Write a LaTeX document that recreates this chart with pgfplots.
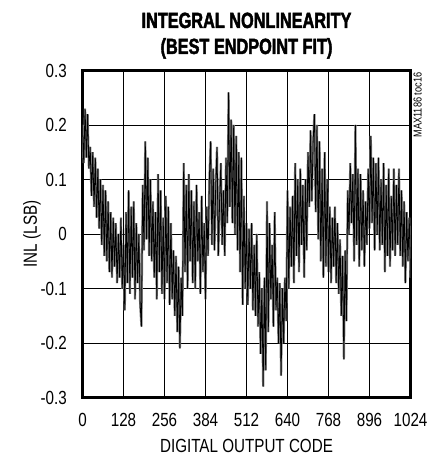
\documentclass[border=0pt]{standalone}
\usepackage{fontspec}
\setmainfont{Liberation Sans}[FakeStretch=0.8]
\newfontfamily\titlefont{Liberation Sans}[FakeStretch=0.74, BoldFeatures={FakeBold=2}]
\usepackage{pgfplots}
\usepackage{pgfplotstable}
\pgfplotsset{compat=1.18}
\pgfplotstableread[row sep=\\]{
code inl\\
0 0.20\\ 4 0.13\\ 8 0.23\\ 12 0.14\\ 16 0.22\\ 20 0.12\\
24 0.16\\ 28 0.07\\ 32 0.15\\ 36 0.05\\ 40 0.14\\ 44 0.03\\ 48 0.12\\ 52 0.01\\
56 0.10\\ 60 -0.02\\ 64 0.09\\ 68 -0.04\\ 72 0.08\\ 76 -0.05\\ 80 0.06\\ 84 -0.07\\ 88 0.04\\ 92 -0.08\\
96 0.03\\ 100 -0.06\\ 104 0.02\\ 108 -0.09\\ 112 0.00\\ 116 -0.08\\ 120 0.03\\ 124 -0.10\\
128 -0.02\\ 132 -0.14\\ 136 0.04\\
140 -0.09\\ 144 0.08\\ 148 -0.11\\ 152 0.05\\ 156 -0.08\\ 160 0.06\\ 164 -0.12\\
168 0.02\\ 172 -0.09\\ 176 0.00\\ 180 -0.13\\ 184 -0.17\\
188 0.09\\ 192 -0.03\\ 196 0.17\\ 200 -0.01\\ 204 0.14\\ 208 -0.04\\ 212 0.10\\
216 -0.05\\ 220 0.06\\ 224 -0.08\\ 228 0.04\\
232 -0.12\\ 236 0.11\\ 240 -0.07\\ 244 0.08\\ 248 -0.11\\ 252 0.03\\ 256 -0.12\\
260 0.07\\ 264 -0.09\\ 268 0.05\\ 272 -0.13\\ 276 0.02\\ 280 -0.12\\ 284 -0.03\\
288 -0.15\\ 292 -0.04\\ 296 -0.18\\ 300 -0.06\\ 304 -0.21\\ 308 -0.08\\ 312 -0.15\\
316 0.13\\ 320 -0.07\\ 324 0.09\\ 328 -0.10\\ 332 0.11\\ 336 -0.05\\ 340 0.08\\ 344 -0.09\\
348 0.06\\ 352 -0.10\\ 356 0.09\\ 360 -0.05\\ 364 0.04\\ 368 -0.11\\ 372 0.07\\ 376 -0.07\\ 380 0.02\\ 384 -0.12\\ 388 0.05\\
392 -0.04\\ 396 0.10\\ 400 0.17\\ 404 -0.02\\ 408 0.12\\
412 -0.03\\ 416 0.09\\ 420 0.16\\ 424 -0.04\\ 428 0.06\\ 432 0.13\\ 436 -0.02\\ 440 0.08\\ 444 -0.04\\
448 0.14\\ 452 0.02\\ 456 0.26\\ 460 0.05\\ 464 0.21\\ 468 0.02\\
472 0.20\\ 476 0.00\\ 480 0.18\\ 484 -0.03\\ 488 0.15\\ 492 -0.07\\ 496 0.14\\
500 -0.13\\ 504 0.07\\ 508 -0.10\\
512 0.02\\ 516 -0.13\\ 520 0.01\\ 524 -0.10\\ 528 0.02\\ 532 -0.14\\ 536 -0.02\\ 540 -0.15\\ 544 0.00\\
548 -0.17\\ 552 -0.07\\ 556 -0.22\\ 560 -0.10\\ 564 -0.28\\ 568 -0.08\\ 572 -0.25\\ 576 0.06\\
580 -0.18\\ 584 0.02\\ 588 -0.12\\ 592 -0.02\\ 596 -0.17\\ 600 0.04\\ 604 -0.14\\
608 -0.08\\ 612 -0.20\\ 616 -0.09\\ 620 -0.26\\ 624 -0.10\\ 628 -0.20\\ 632 -0.08\\
636 -0.16\\ 640 0.08\\ 644 -0.10\\ 648 0.05\\ 652 -0.06\\ 656 0.07\\
660 -0.09\\ 664 0.13\\ 668 -0.04\\ 672 0.10\\ 676 -0.07\\ 680 0.12\\ 684 -0.02\\ 688 0.09\\ 692 -0.08\\ 696 0.10\\ 700 -0.03\\
704 0.15\\ 708 0.05\\ 712 0.19\\ 716 0.06\\ 720 0.17\\ 724 0.22\\ 728 0.04\\
732 0.20\\ 736 -0.01\\ 740 0.17\\ 744 -0.05\\ 748 0.12\\ 752 -0.08\\ 756 0.15\\
760 -0.06\\ 764 0.10\\
768 -0.07\\ 772 0.05\\ 776 -0.09\\ 780 0.03\\ 784 -0.06\\ 788 0.05\\ 792 -0.09\\ 796 0.02\\
800 -0.11\\ 804 -0.01\\ 808 -0.15\\ 812 -0.04\\ 816 -0.23\\ 820 -0.03\\ 824 -0.16\\
828 0.08\\ 832 0.00\\ 836 0.13\\ 840 0.02\\ 844 0.11\\
848 -0.05\\ 852 0.20\\ 856 -0.02\\ 860 0.12\\
864 -0.06\\ 868 0.11\\ 872 -0.03\\ 876 0.08\\ 880 -0.06\\ 884 0.06\\ 888 -0.02\\
892 0.12\\ 896 0.01\\ 900 0.18\\ 904 0.02\\ 908 0.14\\
912 -0.03\\ 916 0.13\\ 920 0.00\\ 924 0.14\\ 928 -0.03\\ 932 0.10\\ 936 -0.02\\
940 0.13\\ 944 -0.07\\ 948 0.09\\ 952 -0.04\\ 956 0.12\\ 960 -0.06\\ 964 0.07\\ 968 -0.03\\
972 0.12\\ 976 -0.04\\ 980 0.09\\ 984 -0.02\\ 988 0.12\\ 992 -0.04\\
996 0.08\\ 1000 -0.06\\ 1004 0.06\\ 1008 -0.09\\ 1012 0.04\\ 1016 -0.05\\ 1020 0.03\\ 1024 -0.08\\
}\inldata
\begin{document}
\begin{tikzpicture}
\begin{axis}[
  width=328pt, height=327pt, scale only axis,
  xmin=0, xmax=1024, ymin=-0.3, ymax=0.3,
  xtick={0,128,256,384,512,640,768,896,1024},
  ytick={-0.3,-0.2,-0.1,0,0.1,0.2,0.3},
  yticklabels={-0.3,-0.2,-0.1,0,0.1,0.2,0.3},
  xticklabels={0,128,256,384,512,640,768,896,1024},
  major tick length=0pt,
  grid=major,
  major grid style={black, line width=0.8pt},
  axis line style={line width=2.5pt},
  tick label style={font=\fontsize{19}{22}\selectfont, inner sep=0pt},
  xticklabel style={anchor=base, yshift=-29.5pt},
  yticklabel style={anchor=east, xshift=-15.5pt},
  clip=true,
]
\addplot[black!50, line width=2.2pt] table[x=code, y=inl] {\inldata};
\addplot[black, line width=0.8pt] table[x=code, y=inl] {\inldata};
\end{axis}
% texts placed relative to the axis box
\node[anchor=base, font=\titlefont\bfseries\fontsize{22}{24}\selectfont, inner sep=0pt]
  at ([yshift=42.5pt]current axis.north) {INTEGRAL NONLINEARITY};
\node[anchor=base, font=\titlefont\bfseries\fontsize{22}{24}\selectfont, inner sep=0pt]
  at ([yshift=16.5pt]current axis.north) {(BEST ENDPOINT FIT)};
\node[anchor=base, font=\fontsize{19}{22}\selectfont, inner sep=0pt]
  at ([yshift=-54.5pt]current axis.south) {DIGITAL OUTPUT CODE};
\node[anchor=base, rotate=90, font=\fontsize{19}{22}\selectfont, inner sep=0pt]
  at ([xshift=-45.5pt]current axis.west) {INL (LSB)};
\node[anchor=north east, rotate=90, font=\fontsize{11.5}{12}\selectfont, inner sep=0pt]
  at ([xshift=3pt,yshift=-2pt]current axis.north east) {MAX1186 toc16};
% page size as in the reference
\path ([xshift=-82.5pt,yshift=-59.5pt]current axis.south west);
\path ([xshift=14.5pt,yshift=70.5pt]current axis.north east);
\end{tikzpicture}
\end{document}
